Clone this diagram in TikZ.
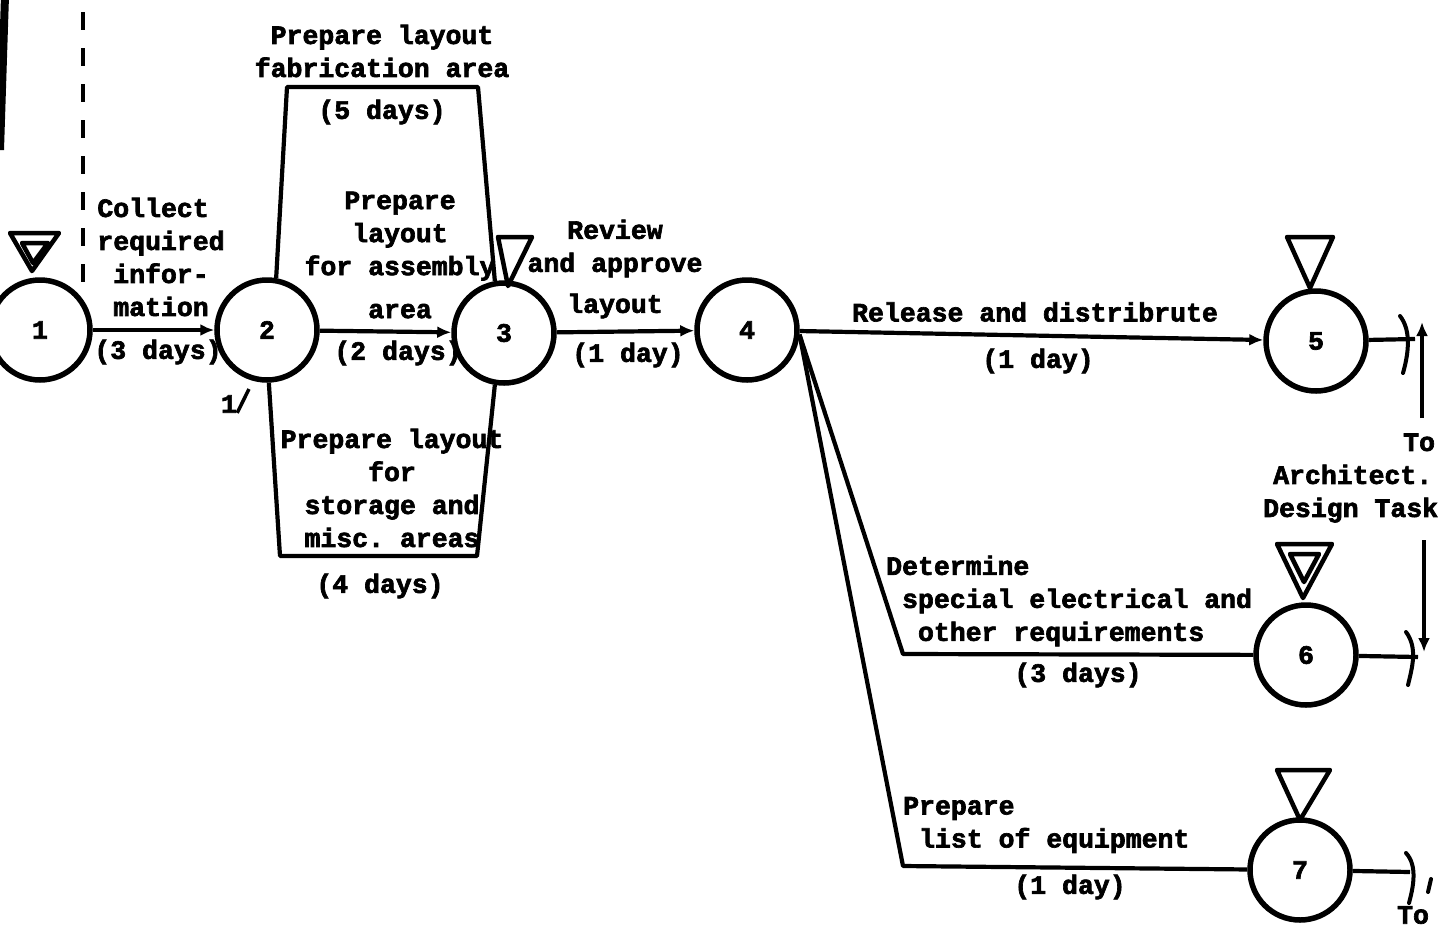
\documentclass[tikz,border=0pt]{standalone}
\usepackage{fontspec}
\setmonofont{Liberation Mono}[BoldFeatures={FakeBold=2.5}]
\usetikzlibrary{arrows.meta}
\begin{document}
\begin{tikzpicture}[x=1pt,y=-1pt,
  every node/.style={font=\ttfamily\bfseries\fontsize{26.5}{33}\selectfont, inner sep=0pt},
  evt/.style={circle, draw, line width=5.5pt, minimum size=100pt, inner sep=0pt},
  act/.style={line width=4.2pt, line join=round},
  arr/.style={act, -{Latex[length=14pt,width=12pt]}},
  tri/.style={line width=4.5pt, line join=round},
  hook/.style={line width=4pt, line cap=round},
  lbl/.style={align=center},
  lbll/.style={align=left}]
\useasboundingbox (0,0) rectangle (1440,930);

% margin marks
\draw[line width=8pt] (5,-4) -- (0,150);
\draw[line width=3.5pt, dash pattern=on 18pt off 18pt] (83,12) -- (83,282);

% events
\node[evt] (n1) at (40,330) {1};
\node[evt] (n2) at (267,330) {2};
\node[evt] (n3) at (504,333) {3};
\node[evt] (n4) at (747,330) {4};
\node[evt] (n5) at (1316,341) {5};
\node[evt] (n6) at (1306,655) {6};
\node[evt] (n7) at (1300,870) {7};

% triangles
\draw[tri] (10,233) -- (59,233) -- (32,271) -- cycle;
\draw[tri] (22,243) -- (48,243) -- (33,263) -- cycle;
\draw[tri] (498,237) -- (532,237) -- (508,286) -- cycle;
\draw[tri] (1287,237) -- (1333,237) -- (1310,288) -- cycle;
\draw[tri] (1277,544) -- (1332,544) -- (1303,598) -- cycle;
\draw[tri] (1290,554) -- (1319,554) -- (1304,582) -- cycle;
\draw[tri] (1277,770) -- (1330,770) -- (1300,820) -- cycle;

% activities
\draw[arr] (n1) -- (n2);
\draw[arr] (n2) -- (n3);
\draw[act] (n2.80) -- (287,87) -- (478,87) -- (n3.100);
\draw[act] (n2.-88) -- (280,556) -- (477,556) -- (n3.-100);
\draw[arr] (n3) -- (n4);
\draw[arr] (n4) -- (n5);
\draw[act] (n4.-5) -- (903,654) -- (n6);
\draw[act] (n4.-5) -- (903,866) -- (n7);

% outgoing ends
\coordinate (o5) at (1415,339);
\coordinate (o6) at (1418,657);
\coordinate (o7) at (1410,872);
\draw[act] (n5) -- (o5);
\draw[act] (n6) -- (o6);
\draw[act] (n7) -- (o7);
\draw[hook] (1400,316) .. controls (1411,330) and (1409,352) .. (1403,373);
\draw[hook] (1406,632) .. controls (1418,648) and (1412,668) .. (1408,685);
\draw[hook] (1406,853) .. controls (1418,866) and (1413,888) .. (1409,903);
\draw[hook] (1431,879) -- (1428,892);
\coordinate (v5b) at (1422,418);
\coordinate (v5t) at (1422,322);
\coordinate (v6t) at (1424,540);
\coordinate (v6b) at (1424,652);
\draw[arr] (v5b) -- (v5t);
\draw[arr] (v6t) -- (v6b);

% labels
\node[lbll] (tcollect) at (161,257) {Collect\\required\\\phantom{x}infor-\\\phantom{x}mation};
\node (t3d) at (158,352) {(3 days)};
\node[lbl] (tfab) at (382,51) {Prepare layout\\fabrication area};
\node (t5d) at (382,112) {(5 days)};
\node[lbl] (tasm) at (400,255) {Prepare\\layout\\for assembly\\[10pt]area};
\node (t2d) at (398,353) {(2 days)};
\node[lbl] (trev) at (615,269) {Review\\and approve\\[8pt]layout};
\node (t1d) at (628,355) {(1 day)};
\node[lbl] (tsto) at (392,488) {Prepare layout\\for\\storage and\\misc. areas};
\node (t4d) at (380,586) {(4 days)};
\node (trel) at (1035,312) {Release and distribrute};
\node (t1db) at (1038,361) {(1 day)};
\node[lbll, anchor=west] (tdet) at (886,601) {Determine\\\phantom{x}special electrical and\\\phantom{xx}other requirements};
\node (t3db) at (1078,675) {(3 days)};
\node[lbll, anchor=west] (tlist) at (903,825) {Prepare\\\phantom{x}list of equipment};
\node (t1dc) at (1070,887) {(1 day)};
\node[lbll, anchor=west] (tarch) at (1263,478) {\hspace*{140pt}To\\\hspace*{10pt}Architect.\\Design Task};
\node[anchor=north] (tto) at (1413,906) {To};
\node (m1) at (229,404) {1};
\coordinate (m1e) at (249,389);
\draw[line width=3.5pt] (m1.south east) -- (m1e);
\end{tikzpicture}
\end{document}
